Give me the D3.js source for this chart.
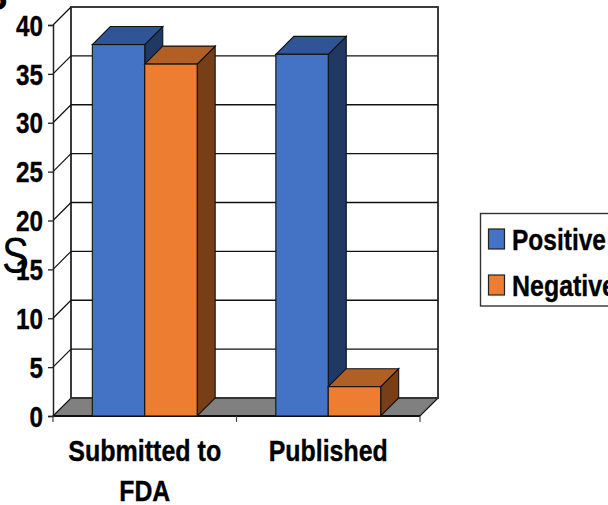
<!DOCTYPE html>
<html>
<head>
<meta charset="utf-8">
<script src="https://cdn.jsdelivr.net/npm/d3@7/dist/d3.min.js"></script>
<style>
html,body{margin:0;padding:0;background:#fff;overflow:hidden}
svg{display:block}
text{font-family:"Liberation Sans",Arial,sans-serif;fill:#000}
</style>
</head>
<body>
<script>
// Report counts by publication route
const categories = ["Submitted to FDA", "Published"];
const categoryLines = [["Submitted to", "FDA"], ["Published"]];
const seriesNames = ["Positive", "Negative"];
const positive = [38, 37];
const negative = [36, 3];
const yTicks = [0, 5, 10, 15, 20, 25, 30, 35, 40];

const seriesColors = {
  Positive: {front: "#4472c4", top: "#2f5597", side: "#203864"},
  Negative: {front: "#ed7d31", top: "#b25f25", side: "#773f18"}
};

const W = 608, H = 505;
const plotLeft = 53, plotRight = 420, plotBottom = 416, plotTop = 25, depth = 18;
const labelSize = 29;

const svg = d3.select("body").append("svg").attr("width", W).attr("height", H);

const x0 = d3.scaleBand().domain(categories).range([plotLeft, plotRight]).paddingInner(0.4286).paddingOuter(0.2143);
const x1 = d3.scaleBand().domain(seriesNames).range([0, x0.bandwidth()]);
const y = d3.scaleLinear().domain([0, 40]).range([plotBottom, plotTop]);

const poly = (pts) => pts.map(p => p.join(",")).join(" ");

// Floor of the 3D plot
svg.append("polygon")
  .attr("points", poly([[plotLeft, plotBottom], [plotRight, plotBottom], [plotRight + depth, plotBottom - depth], [plotLeft + depth, plotBottom - depth]]))
  .attr("fill", "#808080").attr("stroke", "#111").attr("stroke-width", 1.2);

// Back wall with horizontal gridlines
svg.append("rect")
  .attr("x", plotLeft + depth).attr("y", y(40) - depth)
  .attr("width", plotRight - plotLeft).attr("height", plotBottom - y(40))
  .attr("fill", "none").attr("stroke", "#333").attr("stroke-width", 1.9);

const grid = svg.append("g");
yTicks.slice(1, -1).forEach(t => {
  grid.append("line")
    .attr("x1", plotLeft + depth).attr("x2", plotRight + depth)
    .attr("y1", y(t) - depth).attr("y2", y(t) - depth)
    .attr("stroke", "#111").attr("stroke-width", 1.3);
  grid.append("line")
    .attr("x1", plotLeft).attr("x2", plotLeft + depth)
    .attr("y1", y(t)).attr("y2", y(t) - depth)
    .attr("stroke", "#111").attr("stroke-width", 1.2);
});
grid.append("line")
  .attr("x1", plotLeft).attr("x2", plotLeft + depth)
  .attr("y1", y(40)).attr("y2", y(40) - depth)
  .attr("stroke", "#111").attr("stroke-width", 1.2);

// Value axis, front edge
const yAxis = svg.append("g").attr("transform", `translate(${plotLeft},0)`)
  .call(d3.axisLeft(y).tickValues(yTicks).tickSize(5).tickPadding(5));
yAxis.select(".domain").attr("stroke", "#222").attr("stroke-width", 1.5);
yAxis.selectAll(".tick line").attr("stroke", "#222").attr("stroke-width", 1.3);
yAxis.selectAll(".tick text")
  .attr("font-family", "Liberation Sans").attr("font-weight", 700).attr("font-size", labelSize)
  .attr("dy", "0.35em").attr("stroke", "#000").attr("stroke-width", 0.35)
  .attr("textLength", 27).attr("lengthAdjust", "spacingAndGlyphs")
  .filter(d => d < 10).attr("textLength", 13.5);

// Category axis baseline and ticks
const xAxis = svg.append("g");
xAxis.append("line").attr("x1", plotLeft).attr("x2", plotRight).attr("y1", plotBottom).attr("y2", plotBottom)
  .attr("stroke", "#111").attr("stroke-width", 1.8);
[plotLeft, x0.step() + plotLeft, plotRight].forEach(px => {
  xAxis.append("line").attr("x1", px).attr("x2", px).attr("y1", plotBottom).attr("y2", plotBottom + 6)
    .attr("stroke", "#444").attr("stroke-width", 1.2);
});

// Bars, back-to-front within each cluster
function drawBar(g, bx, w, v, c) {
  const t = y(v), b = y(0);
  g.append("polygon")
    .attr("points", poly([[bx + w, t], [bx + w + depth, t - depth], [bx + w + depth, b - depth], [bx + w, b]]))
    .attr("fill", c.side).attr("stroke", "#111").attr("stroke-width", 1.1);
  g.append("polygon")
    .attr("points", poly([[bx, t], [bx + depth, t - depth], [bx + w + depth, t - depth], [bx + w, t]]))
    .attr("fill", c.top).attr("stroke", "#111").attr("stroke-width", 1.1);
  g.append("rect").attr("x", bx).attr("y", t).attr("width", w).attr("height", b - t)
    .attr("fill", c.front).attr("stroke", "#111").attr("stroke-width", 1.1);
}
const barValues = {Positive: positive, Negative: negative};
const bars = svg.append("g");
categories.forEach((cat, i) => {
  seriesNames.forEach(s => {
    drawBar(bars, x0(cat) + x1(s), x1.bandwidth(), barValues[s][i], seriesColors[s]);
  });
});

// Category labels, wrapped over two lines where needed
const catWidths = {"Submitted to": 153, "FDA": 51, "Published": 119};
categories.forEach((cat, i) => {
  const cx = x0(cat) + x0.bandwidth() / 2;
  categoryLines[i].forEach((line, j) => {
    svg.append("text").attr("x", cx).attr("y", 461 + j * 40)
      .attr("text-anchor", "middle").attr("font-weight", 700).attr("font-size", labelSize)
      .attr("stroke", "#000").attr("stroke-width", 0.35)
      .attr("textLength", catWidths[line]).attr("lengthAdjust", "spacingAndGlyphs")
      .text(line);
  });
});

// Legend box runs past the right edge of the page
const legend = svg.append("g");
legend.append("rect").attr("x", 480.5).attr("y", 213.5).attr("width", 160).attr("height", 92.5)
  .attr("fill", "#fff").attr("stroke", "#333").attr("stroke-width", 1.4);
const legendY = d3.scalePoint().domain(seriesNames).range([239, 285]);
const legendWidths = {Positive: 94, Negative: 104};
seriesNames.forEach(s => {
  legend.append("rect").attr("x", 488.5).attr("y", legendY(s) - 10).attr("width", 16).attr("height", 20)
    .attr("fill", seriesColors[s].front).attr("stroke", "#222").attr("stroke-width", 1.2);
  legend.append("text").attr("x", 512).attr("y", legendY(s) + 11)
    .attr("font-weight", 700).attr("font-size", labelSize)
    .attr("stroke", "#000").attr("stroke-width", 0.35)
    .attr("textLength", legendWidths[s]).attr("lengthAdjust", "spacingAndGlyphs")
    .text(s);
});

// Stray letters from the surrounding slide
svg.append("text").attr("x", 2).attr("y", 273).attr("font-size", 50)
  .attr("textLength", 27).attr("lengthAdjust", "spacingAndGlyphs").text("S");
svg.append("text").attr("x", -19).attr("y", 10).attr("font-size", 40).attr("font-weight", 700).text("S");
</script>
</body>
</html>
